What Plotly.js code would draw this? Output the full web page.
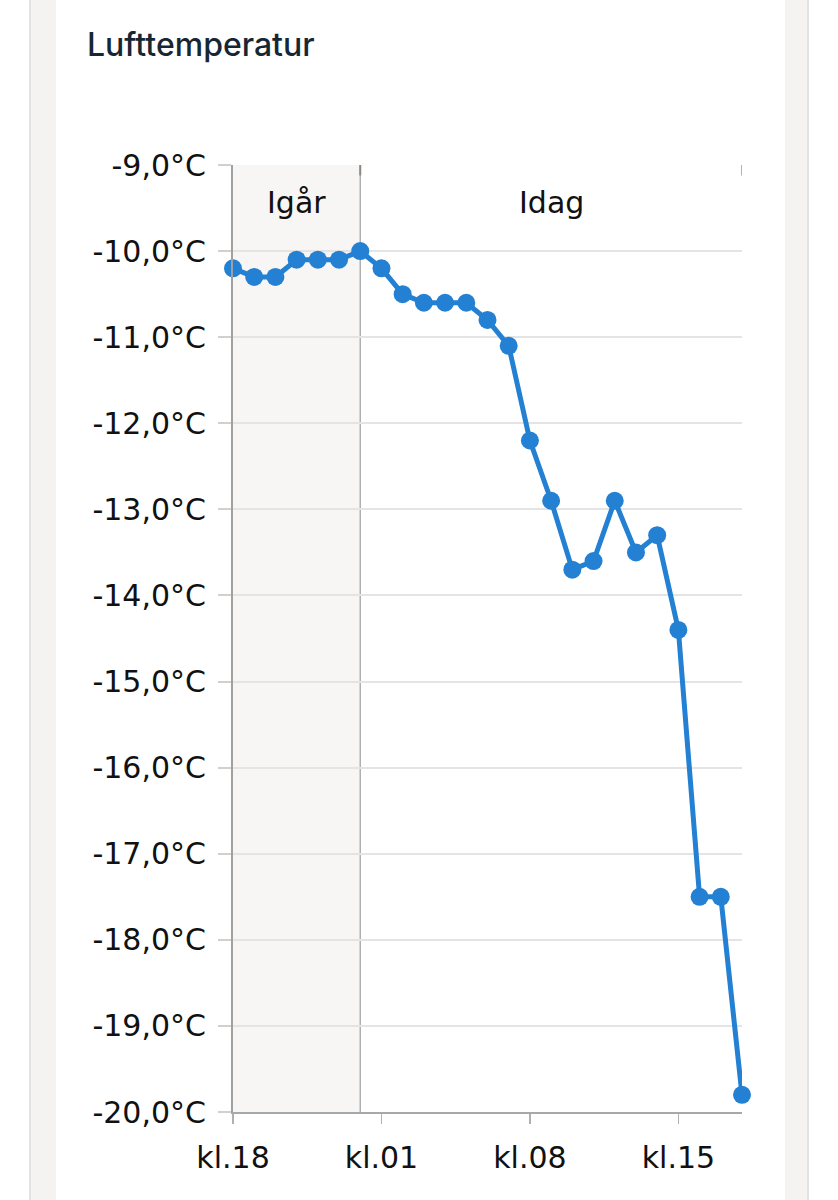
<!DOCTYPE html>
<html>
<head>
<meta charset="utf-8">
<script src="https://cdn.plot.ly/plotly-3.0.1.min.js"></script>
<style>
  html, body { margin: 0; padding: 0; background: #ffffff; }
  #wrap { position: relative; width: 838px; height: 1200px; overflow: hidden; background: #ffffff; }
  .strip { position: absolute; top: 0; height: 1200px; background: #f4f3f2; }
  #chart { position: absolute; left: 0; top: 0; width: 838px; height: 1200px; }
</style>
</head>
<body>
<div id="wrap">
  <div class="strip" style="left:29px;width:25px;border-left:2px solid #e4e3e2;"></div>
  <div class="strip" style="left:785px;width:22px;border-right:2px solid #e4e3e2;"></div>
  <div id="chart"></div>
</div>
<script>
// Hours since 18:00 yesterday (0 = kl.18 yesterday, 6 = midnight, 24 = kl.18 today)
const hourIndex = [0, 1, 2, 3, 4, 5, 6, 7, 8, 9, 10, 11, 12, 13, 14, 15, 16, 17, 18, 19, 20, 21, 22, 23, 24];
const temps = [-10.2, -10.3, -10.3, -10.1, -10.1, -10.1, -10.0, -10.2, -10.5, -10.6, -10.6, -10.6, -10.8, -11.1, -12.2, -12.9, -13.7, -13.6, -12.9, -13.5, -13.3, -14.4, -17.5, -17.5, -19.8];

const xTickVals = [0, 7, 14, 21];
const xTickText = ['kl.18', 'kl.01', 'kl.08', 'kl.15'];
const yTickVals = [-9, -10, -11, -12, -13, -14, -15, -16, -17, -18, -19, -20];
const yTickText = ['-9,0°C', '-10,0°C', '-11,0°C', '-12,0°C', '-13,0°C', '-14,0°C', '-15,0°C', '-16,0°C', '-17,0°C', '-18,0°C', '-19,0°C', '-20,0°C'];

const bands = [
  { label: 'Igår', from: 0, to: 6 },
  { label: 'Idag', from: 6, to: 24 }
];

const lineColor = '#2380d3';
const tickFont = { family: 'DejaVu Sans, Verdana, sans-serif', size: 30, color: '#111111' };

const shapes = [
  { type: 'rect', xref: 'x', yref: 'paper', x0: bands[0].from, x1: bands[0].to, y0: 0, y1: 1,
    fillcolor: '#f7f6f4', line: { width: 0 }, layer: 'below' },
  { type: 'line', xref: 'x', yref: 'paper', x0: bands[0].to, x1: bands[0].to, y0: 0, y1: 1,
    line: { color: '#b0b0b0', width: 1.5 }, layer: 'below' },
  { type: 'line', xref: 'x', yref: 'paper', x0: bands[0].to, x1: bands[0].to, y0: 0.989, y1: 1,
    line: { color: '#888888', width: 2 }, layer: 'above' },
  { type: 'line', xref: 'x', yref: 'paper', x0: bands[1].to, x1: bands[1].to, y0: 0.989, y1: 1,
    line: { color: '#999999', width: 1.5 }, layer: 'above' }
];

const annotations = bands.map(b => ({
  text: b.label, xref: 'x', yref: 'y', x: (b.from + b.to) / 2, y: -9.43,
  showarrow: false, xanchor: 'center', yanchor: 'middle',
  font: { family: 'DejaVu Sans, Verdana, sans-serif', size: 30, color: '#111111' }
}));

const trace = {
  type: 'scatter', mode: 'lines+markers',
  x: hourIndex, y: temps,
  line: { color: lineColor, width: 5 },
  marker: { color: lineColor, size: 18 },
  cliponaxis: false, hoverinfo: 'skip'
};

const layout = {
  width: 838, height: 1200,
  margin: { l: 233, r: 96, t: 165, b: 88, pad: 0 },
  paper_bgcolor: 'rgba(0,0,0,0)',
  plot_bgcolor: 'rgba(0,0,0,0)',
  showlegend: false,
  title: {
    text: 'Lufttemperatur',
    xref: 'container', yref: 'container',
    x: 87 / 838, xanchor: 'left',
    y: 1 - 45 / 1200, yanchor: 'middle',
    font: { family: 'Inter, Lato, sans-serif', size: 32, weight: 500, color: '#172633' }
  },
  xaxis: {
    range: [0, 24], fixedrange: true,
    tickmode: 'array', tickvals: xTickVals, ticktext: xTickText,
    showgrid: false, zeroline: false,
    showline: true, linecolor: '#a8a8a8', linewidth: 2,
    ticks: 'outside', ticklen: 10, tickwidth: 1.5, tickcolor: '#b0b0b0',
    ticklabelstandoff: 8,
    tickfont: tickFont
  },
  yaxis: {
    range: [-20, -9], fixedrange: true,
    tickmode: 'array', tickvals: yTickVals, ticktext: yTickText,
    showgrid: true, gridcolor: '#e4e4e4', gridwidth: 2,
    zeroline: false,
    showline: true, linecolor: '#a0a0a0', linewidth: 2,
    ticks: 'outside', ticklen: 13, tickwidth: 2, tickcolor: '#d0d0d0',
    ticklabelstandoff: 6,
    tickfont: tickFont
  },
  shapes: shapes,
  annotations: annotations
};

Plotly.newPlot('chart', [trace], layout, { displayModeBar: false, staticPlot: true });
</script>
</body>
</html>
